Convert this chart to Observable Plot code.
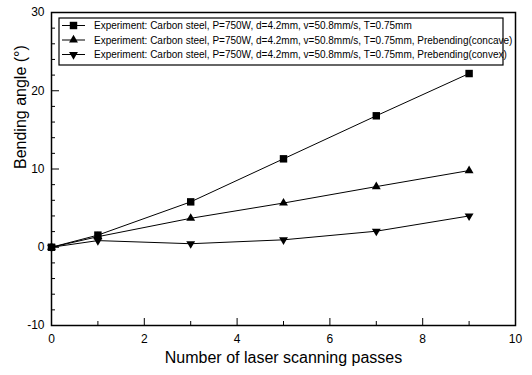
<!DOCTYPE html>
<html><head><meta charset="utf-8">
<script src="https://cdn.jsdelivr.net/npm/d3@7"></script>
<script src="https://cdn.jsdelivr.net/npm/@observablehq/plot@0.6"></script>
<style>body{margin:0;background:#fff;} svg{font-family:"Liberation Sans",Arial,sans-serif;}</style>
</head><body><div id="chart"></div>
<script>
const passes = [0, 1, 3, 5, 7, 9];
const plainAngle = [0, 1.55, 5.8, 11.3, 16.8, 22.2];
const concaveAngle = [0, 1.35, 3.7, 5.65, 7.75, 9.8];
const convexAngle = [0, 0.85, 0.45, 0.95, 2.05, 4.0];
const seriesNames = [
  "Experiment: Carbon steel, P=750W, d=4.2mm, v=50.8mm/s, T=0.75mm",
  "Experiment: Carbon steel, P=750W, d=4.2mm, v=50.8mm/s, T=0.75mm, Prebending(concave)",
  "Experiment: Carbon steel, P=750W, d=4.2mm, v=50.8mm/s, T=0.75mm, Prebending(convex)"
];
const xMajorTicks = [0, 2, 4, 6, 8, 10];
const xMinorTicks = [1, 3, 5, 7, 9];
const yMajorTicks = [-10, 0, 10, 20, 30];
const yMinorTicks = [-8, -6, -4, -2, 2, 4, 6, 8, 12, 14, 16, 18, 22, 24, 26, 28];
const xTitle = "Number of laser scanning passes";
const yTitle = "Bending angle (\u00B0)";

const triangleDown = {
  draw(context, size) {
    const s3 = Math.sqrt(3);
    const y = -Math.sqrt(size / (s3 * 3));
    context.moveTo(0, -y * 2);
    context.lineTo(-s3 * y, y);
    context.lineTo(s3 * y, y);
    context.closePath();
  }
};
const symbols = ["square", "triangle", triangleDown];
const radii = [4.2, 3.3, 3.3];
const values = [plainAngle, concaveAngle, convexAngle];
const rows = [];
values.forEach((vals, i) => passes.forEach((p, j) => rows.push({series: i, x: p, y: vals[j]})));

const W = 532, H = 375, mL = 51, mR = 17, mT = 12, mB = 50;
const plotW = W - mL - mR, plotH = H - mT - mB;

const dotMarks = values.map((vals, i) =>
  Plot.dot(rows.filter(r => r.series === i), {x: "x", y: "y", symbol: symbols[i], r: radii[i], fill: "black", stroke: "none"}));

const chart = Plot.plot({
  width: W, height: H,
  marginLeft: mL, marginRight: mR, marginTop: mT, marginBottom: mB,
  style: {fontFamily: "'Liberation Sans', Arial, sans-serif", background: "white"},
  x: {domain: [0, 10]},
  y: {domain: [-10, 30]},
  marks: [
    Plot.line(rows, {x: "x", y: "y", z: "series", stroke: "black", strokeWidth: 1}),
    ...dotMarks,
    Plot.tickX(xMajorTicks, {x: d => d, stroke: "black", insetTop: plotH - 7}),
    Plot.tickX(xMinorTicks, {x: d => d, stroke: "black", insetTop: plotH - 4}),
    Plot.tickY(yMajorTicks, {y: d => d, stroke: "black", insetRight: plotW - 8}),
    Plot.tickY(yMinorTicks, {y: d => d, stroke: "black", insetRight: plotW - 4}),
    Plot.axisX({ticks: xMajorTicks, tickSize: 0, tickPadding: 9, fontSize: 12, label: null, tickFormat: d => String(d)}),
    Plot.axisY({ticks: yMajorTicks, tickSize: 0, tickPadding: 7, fontSize: 12, label: null, tickFormat: d => String(d)}),
    Plot.text([xTitle], {text: d => d, frameAnchor: "bottom", dy: 37, fontSize: 16, fill: "black"}),
    Plot.text([yTitle], {text: d => d, frameAnchor: "left", dx: -31, rotate: -90, fontSize: 16, fill: "black"}),
    Plot.frame({stroke: "black", strokeWidth: 1.5})
  ]
});

// Legend drawn inside the plot frame
const svg = d3.select(chart);
const lg = svg.append("g").attr("font-size", 10).attr("fill", "black").attr("text-anchor", "start");
lg.append("rect").attr("x", 59).attr("y", 18).attr("width", 444).attr("height", 47)
  .attr("fill", "white").attr("stroke", "black").attr("stroke-width", 1.2);
const rowY = [25.5, 40, 54.5];
seriesNames.forEach((name, i) => {
  const y = rowY[i];
  lg.append("line").attr("x1", 62).attr("x2", 85).attr("y1", y).attr("y2", y).attr("stroke", "black");
  const sym = typeof symbols[i] === "string" ? (symbols[i] === "square" ? d3.symbolSquare : d3.symbolTriangle) : symbols[i];
  lg.append("path").attr("transform", `translate(73.5,${y})`)
    .attr("d", d3.symbol(sym, Math.PI * radii[i] * radii[i])());
  lg.append("text").attr("x", 94).attr("y", y).attr("dy", "0.35em").attr("text-anchor", "start").text(name);
});

document.getElementById("chart").appendChild(chart);
</script></body></html>
